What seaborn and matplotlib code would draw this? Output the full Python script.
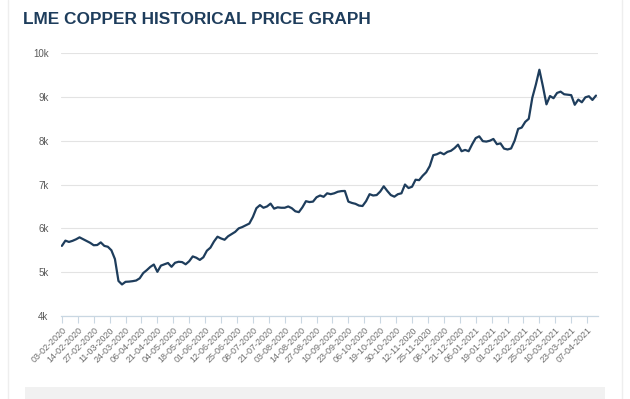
import numpy as np
import pandas as pd
import matplotlib
matplotlib.use("Agg")
import matplotlib.pyplot as plt
import seaborn as sns
from matplotlib.patches import Rectangle

# LME copper cash price (USD/t), one reading every 2 trading days
price = [
    5600, 5720, 5690, 5715, 5750, 5795, 5754, 5715, 5670, 5615,
    5620, 5680, 5600, 5580, 5500, 5300, 4800, 4720, 4780, 4785,
    4795, 4810, 4860, 4980, 5046, 5120, 5175, 5008, 5150, 5180,
    5210, 5123, 5215, 5238, 5230, 5180, 5250, 5360, 5330, 5280,
    5340, 5490, 5560, 5700, 5810, 5770, 5740, 5820, 5870, 5920,
    6000, 6030, 6070, 6110, 6260, 6460, 6530, 6470, 6500, 6565,
    6450, 6480, 6470, 6470, 6500, 6460, 6390, 6370, 6480, 6620,
    6600, 6610, 6710, 6750, 6720, 6800, 6780, 6800, 6835, 6850,
    6854, 6610, 6580, 6560, 6520, 6510, 6620, 6780, 6750, 6760,
    6840, 6960, 6854, 6760, 6723, 6780, 6800, 7000, 6920, 6950,
    7110, 7100, 7200, 7280, 7420, 7670, 7690, 7730, 7690, 7745,
    7770, 7830, 7910, 7760, 7790, 7760, 7920, 8060, 8100, 7990,
    7980, 8000, 8040, 7920, 7940, 7820, 7800, 7823, 8000, 8270,
    8300, 8430, 8500, 8980, 9280, 9620, 9240, 8830, 9020, 8970,
    9090, 9120, 9060, 9050, 9040, 8820, 8938, 8877, 8990, 9015,
    8930, 9030,
]
step = 2          # trading days between readings
label_every = 9   # trading days between date labels

date_labels = [
    "03-02-2020", "14-02-2020", "27-02-2020", "11-03-2020", "24-03-2020",
    "06-04-2020", "21-04-2020", "04-05-2020", "18-05-2020", "01-06-2020",
    "12-06-2020", "25-06-2020", "08-07-2020", "21-07-2020", "03-08-2020",
    "14-08-2020", "27-08-2020", "10-09-2020", "23-09-2020", "06-10-2020",
    "19-10-2020", "30-10-2020", "12-11-2020", "25-11-2020", "08-12-2020",
    "21-12-2020", "06-01-2021", "19-01-2021", "01-02-2021", "12-02-2021",
    "25-02-2021", "10-03-2021", "23-03-2021", "07-04-2021",
]
y_ticks = [4000, 5000, 6000, 7000, 8000, 9000, 10000]
y_labels = ["4k", "5k", "6k", "7k", "8k", "9k", "10k"]

df = pd.DataFrame({"day": np.arange(len(price)) * step, "price": price})

sns.set_style("white")
plt.rcParams["font.family"] = ["Liberation Sans", "DejaVu Sans"]

navy = "#1e3d5c"
fig = plt.figure(figsize=(6.3, 3.99), dpi=100)
ax = fig.add_axes([0.0968, 0.208, 0.852, 0.659])

sns.lineplot(data=df, x="day", y="price", ax=ax, color=navy, linewidth=1.6)

ax.set_xlim(-0.5, df["day"].iloc[-1] + 1)
ax.set_ylim(4000, 10000)
ax.set_yticks(y_ticks)
ax.set_yticklabels(y_labels)
ax.set_xticks(np.arange(len(date_labels)) * label_every)
ax.set_xticklabels(date_labels, rotation=45, ha="right", rotation_mode="anchor")
ax.set_xlabel("")
ax.set_ylabel("")

ax.yaxis.grid(True, color="#e3e3e3", linewidth=0.8)
ax.xaxis.grid(False)
for s in ["top", "right", "left"]:
    ax.spines[s].set_visible(False)
ax.spines["bottom"].set_color("#c9d7e2")
ax.spines["bottom"].set_linewidth(0.9)
ax.tick_params(axis="y", length=0, pad=9, labelsize=7, labelcolor="#5a5a5a")
ax.tick_params(axis="x", bottom=True, length=5, width=0.8, color="#c9d7e2",
               pad=2, labelsize=6.5, labelcolor="#6e6e6e")

fig.text(0.036, 0.95, "LME COPPER HISTORICAL PRICE GRAPH", fontsize=12.4,
         fontweight="bold", color=navy, va="center", ha="left")

# card edges and grey footer strip
fig.add_artist(plt.Line2D([8 / 630, 8 / 630], [0, 1], color="#eeeeee", lw=1))
fig.add_artist(plt.Line2D([622 / 630, 622 / 630], [0, 1], color="#eeeeee", lw=1))
fig.add_artist(Rectangle((25 / 630, 0), 580 / 630, 12 / 399,
                         transform=fig.transFigure, color="#f1f1f1", lw=0))

fig.savefig("out.png", dpi=100)
